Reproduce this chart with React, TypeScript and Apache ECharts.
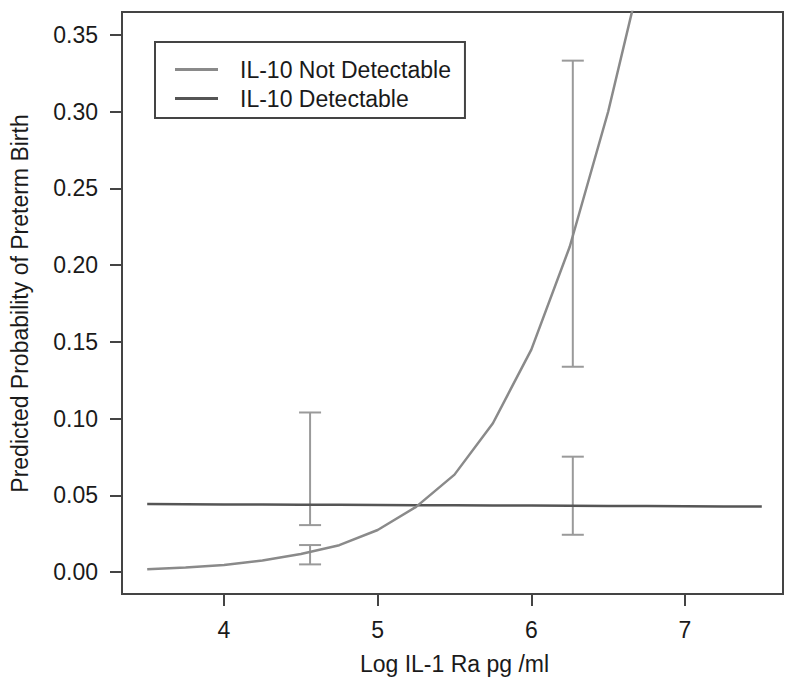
import React, { useEffect, useRef } from "react";
import * as echarts from "echarts";

// x grid of the fitted curves (Log IL-1 Ra pg/ml)
const xGrid = [3.5, 3.75, 4.0, 4.25, 4.5, 4.75, 5.0, 5.25, 5.5, 5.75, 6.0, 6.25, 6.5, 6.75, 7.0, 7.25, 7.5];
// Predicted probability, IL-10 not detectable (curve leaves the plot above 0.365)
const notDetectable = [0.0018, 0.0029, 0.0046, 0.0075, 0.0118, 0.0175, 0.0274, 0.0425, 0.0635, 0.097, 0.145, 0.212, 0.3, 0.405, null, null, null];
// Predicted probability, IL-10 detectable
const detectable = [0.0443, 0.0442, 0.0441, 0.044, 0.0439, 0.0438, 0.0437, 0.0436, 0.0435, 0.0434, 0.0433, 0.0432, 0.0431, 0.043, 0.0429, 0.0428, 0.0427];
// Error bars: [x, low, high]
const errorBars = [
  [4.56, 0.0306, 0.104],
  [4.56, 0.005, 0.0176],
  [6.27, 0.1338, 0.3333],
  [6.27, 0.0243, 0.0752],
];
const yTicks = { min: 0, max: 0.35, interval: 0.05 };
const xTicks = { min: 4, max: 7, interval: 1 };

const FONT = "'Liberation Sans', Arial, Helvetica, sans-serif";
const TEXT = "#1a1a1a";
const FRAME = "#444444";
const FS = 23;

export default function App() {
  const ref = useRef<HTMLDivElement>(null);
  useEffect(() => {
    if (!ref.current) return;
    const chart = echarts.init(ref.current, undefined, { renderer: "svg" });
    const curveNot = xGrid.map((x, i) => [x, notDetectable[i]]).filter((p) => p[1] !== null);
    const curveDet = xGrid.map((x, i) => [x, detectable[i]]);
    chart.setOption({
      animation: false,
      backgroundColor: "#ffffff",
      textStyle: { fontFamily: FONT },
      grid: [
        { left: 122, right: 17, top: 12, bottom: 93, show: true, borderColor: FRAME, borderWidth: 2, backgroundColor: "transparent" },
        { left: 122, right: 17, top: 35, bottom: 115 },
        { left: 224, right: 115, top: 12, bottom: 93 },
      ],
      xAxis: [
        { gridIndex: 0, type: "value", min: 3.336, max: 7.638, show: false },
        { gridIndex: 1, type: "value", min: 0, max: 1, show: false },
        {
          gridIndex: 2, type: "value", min: xTicks.min, max: xTicks.max, interval: xTicks.interval,
          axisLine: { show: false },
          axisTick: { show: true, length: 12, lineStyle: { color: FRAME, width: 2 } },
          splitLine: { show: false },
          axisLabel: { fontSize: FS, color: TEXT, margin: 24, fontFamily: FONT },
          name: "Log IL-1 Ra pg /ml", nameLocation: "middle", nameGap: 58,
          nameTextStyle: { fontSize: FS, color: TEXT, fontFamily: FONT },
        },
      ],
      yAxis: [
        { gridIndex: 0, type: "value", min: -0.0143, max: 0.365, show: false },
        {
          gridIndex: 1, type: "value", min: yTicks.min, max: yTicks.max, interval: yTicks.interval,
          axisLine: { show: false },
          axisTick: { show: true, length: 13, lineStyle: { color: FRAME, width: 2 } },
          splitLine: { show: false },
          axisLabel: { fontSize: FS, color: TEXT, margin: 25, fontFamily: FONT, formatter: (v: number) => v.toFixed(2) },
          name: "Predicted Probability of Preterm Birth", nameLocation: "middle", nameGap: 92,
          nameTextStyle: { fontSize: FS, color: TEXT, fontFamily: FONT },
        },
        { gridIndex: 2, type: "value", min: 0, max: 1, show: false },
      ],
      legend: {
        left: 155, top: 42, orient: "vertical",
        padding: [16, 14, 8, 20], itemGap: 6,
        itemWidth: 43, itemHeight: 3, icon: "rect",
        borderColor: FRAME, borderWidth: 2, borderRadius: 0,
        textStyle: { fontSize: FS, color: TEXT, fontFamily: FONT, lineHeight: 22, padding: [0, 0, 0, 17] },
        data: ["IL-10 Not Detectable", "IL-10 Detectable"],
      },
      series: [
        {
          name: "error bars", type: "custom", xAxisIndex: 0, yAxisIndex: 0,
          data: errorBars,
          renderItem: (params: any, api: any) => {
            const x = api.value(0);
            const lo = api.coord([x, api.value(1)]);
            const hi = api.coord([x, api.value(2)]);
            const hw = 11;
            const style = { stroke: "#9a9a9a", lineWidth: 2 };
            return {
              type: "group",
              children: [
                { type: "line", shape: { x1: lo[0], y1: lo[1], x2: hi[0], y2: hi[1] }, style },
                { type: "line", shape: { x1: lo[0] - hw, y1: lo[1], x2: lo[0] + hw, y2: lo[1] }, style },
                { type: "line", shape: { x1: hi[0] - hw, y1: hi[1], x2: hi[0] + hw, y2: hi[1] }, style },
              ],
            };
          },
          z: 1,
        },
        {
          name: "IL-10 Not Detectable", type: "line", xAxisIndex: 0, yAxisIndex: 0,
          data: curveNot, symbol: "none", clip: true,
          lineStyle: { color: "#8a8a8a", width: 2.5 }, itemStyle: { color: "#8a8a8a" }, z: 3,
        },
        {
          name: "IL-10 Detectable", type: "line", xAxisIndex: 0, yAxisIndex: 0,
          data: curveDet, symbol: "none", clip: true,
          lineStyle: { color: "#555555", width: 2.5 }, itemStyle: { color: "#555555" }, z: 2,
        },
      ],
    });
    return () => chart.dispose();
  }, []);
  return <div ref={ref} style={{ position: "fixed", left: 0, top: 0, width: 800, height: 687 }} />;
}
